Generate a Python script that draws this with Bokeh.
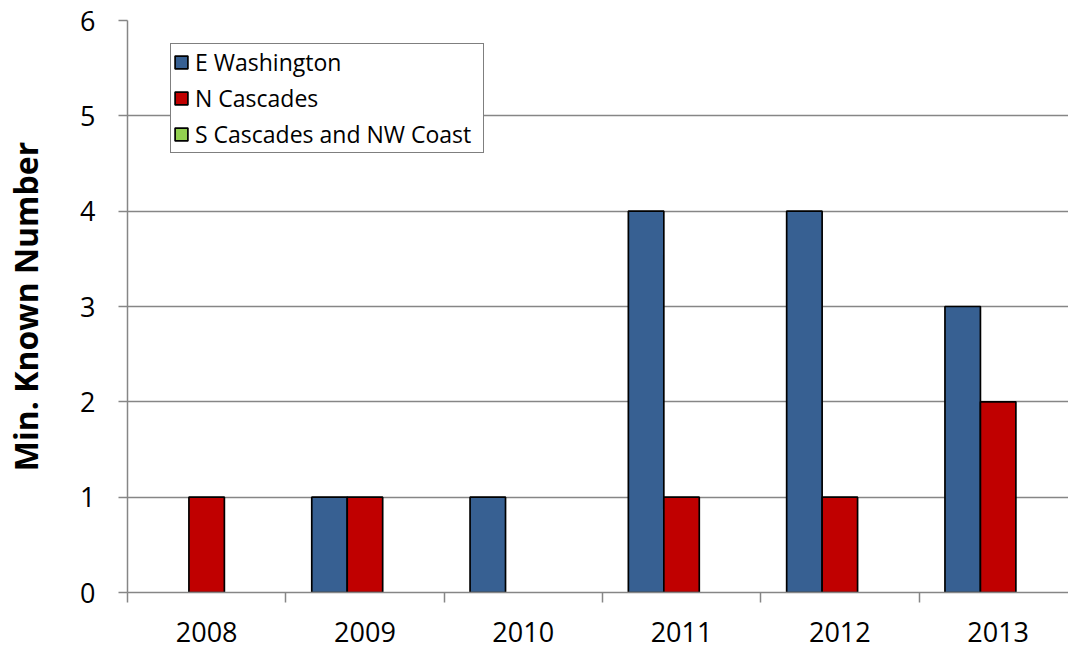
from bokeh.plotting import figure
from bokeh.models import Range1d, FixedTicker, ColumnDataSource, Legend, LegendItem
from bokeh.transform import dodge
from bokeh.embed import file_html
from bokeh.resources import INLINE

# ---- data ----
years = ["2008", "2009", "2010", "2011", "2012", "2013"]
e_washington = [0, 1, 1, 4, 4, 3]
n_cascades = [1, 1, 0, 1, 1, 2]
s_cascades_nw_coast = [0, 0, 0, 0, 0, 0]
series_names = ["E Washington", "N Cascades", "S Cascades and NW Coast"]
y_ticks = [0, 1, 2, 3, 4, 5, 6]

# ---- styles ----
colors = ["#376092", "#C00000", "#92D050"]
bar_w = 0.224
offsets = [-bar_w, 0.0, bar_w]
gray = "#868686"
FONT = "Open Sans"

p = figure(width=1068, height=649,
           x_range=Range1d(-0.5, -0.5 + 941 / 158.3),
           y_range=Range1d(0, 6),
           output_backend="svg", toolbar_location=None,
           min_border_left=127, min_border_right=0,
           min_border_top=20, min_border_bottom=57)
p.outline_line_color = None
p.background_fill_color = "white"

items = []
for name, vals, col, off in zip(series_names,
                                [e_washington, n_cascades, s_cascades_nw_coast],
                                colors, offsets):
    # bars (zero values are not drawn, as in the original)
    idx = [i for i, v in enumerate(vals) if v > 0]
    src = ColumnDataSource(dict(x=idx, top=[vals[i] for i in idx]))
    p.vbar(x=dodge("x", off), top="top", bottom=0, width=bar_w, source=src,
           fill_color=col, line_color="black", line_width=1.7)
    # legend swatch for the full series
    full = ColumnDataSource(dict(x=list(range(len(years))), top=vals))
    leg_r = p.vbar(x=dodge("x", off), top="top", bottom=0, width=bar_w, source=full,
                   fill_color=col, line_color="black", line_width=1.7, visible=False)
    items.append(LegendItem(label=name, renderers=[leg_r]))

legend = Legend(items=items, location=(43, 439))
legend.click_policy = "none"
legend.border_line_color = "black"
legend.border_line_width = 1.8
legend.padding = 2
legend.spacing = 4
legend.margin = 0
legend.label_height = 24
legend.label_width = 286
legend.glyph_height = 16
legend.glyph_width = 16
legend.label_standoff = 6
legend.label_text_font = FONT
legend.label_text_font_size = "23px"
legend.label_text_color = "black"
legend.background_fill_alpha = 1
p.add_layout(legend)

# y axis
p.yaxis.ticker = FixedTicker(ticks=y_ticks)
p.yaxis.axis_line_color = gray
p.yaxis.axis_line_width = 1.5
p.yaxis.major_tick_line_color = gray
p.yaxis.major_tick_line_width = 1.5
p.yaxis.major_tick_out = 9
p.yaxis.major_tick_in = 0
p.yaxis.minor_tick_line_color = None
p.yaxis.major_label_text_font = FONT
p.yaxis.major_label_text_font_size = "27px"
p.yaxis.major_label_text_color = "black"
p.yaxis.major_label_standoff = 23
p.yaxis.axis_label = "Min. Known Number"
p.yaxis.axis_label_text_font = FONT
p.yaxis.axis_label_text_font_style = "bold"
p.yaxis.axis_label_text_font_size = "32px"
p.yaxis.axis_label_text_color = "black"
p.yaxis.axis_label_standoff = 30

# x axis
p.xaxis.ticker = FixedTicker(ticks=list(range(len(years))),
                             minor_ticks=[i - 0.5 for i in range(len(years) + 1)])
p.xaxis.major_label_overrides = {i: y for i, y in enumerate(years)}
p.xaxis.axis_line_color = gray
p.xaxis.axis_line_width = 1.5
p.xaxis.major_tick_line_color = None
p.xaxis.major_tick_out = 0
p.xaxis.major_tick_in = 0
p.xaxis.minor_tick_line_color = gray
p.xaxis.minor_tick_line_width = 1.5
p.xaxis.minor_tick_out = 10
p.xaxis.minor_tick_in = 0
p.xaxis.major_label_text_font = FONT
p.xaxis.major_label_text_font_size = "27px"
p.xaxis.major_label_text_color = "black"
p.xaxis.major_label_standoff = 19

p.xgrid.grid_line_color = None
p.ygrid.grid_line_color = gray
p.ygrid.grid_line_width = 1.5

open("out.html", "w").write(file_html(p, INLINE))
